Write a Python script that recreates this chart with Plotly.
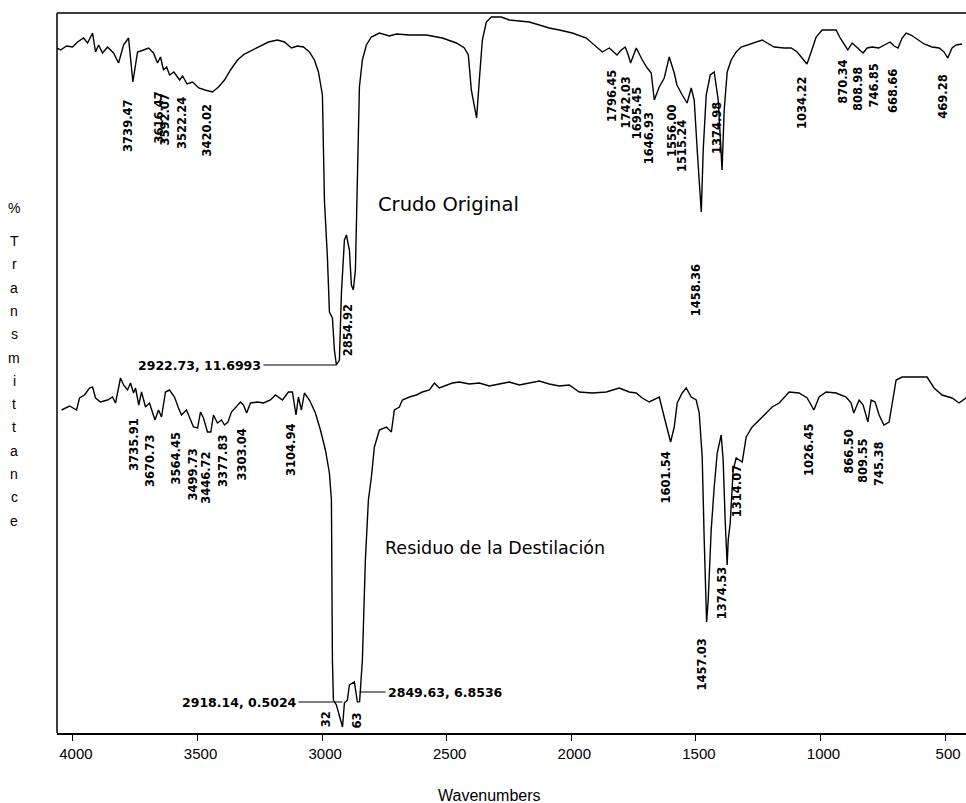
import plotly.graph_objects as go

# ---------------- data ----------------
top_wn = [4053.7, 4029.7, 4005.6, 3981.5, 3961.5, 3937.4, 3921.4, 3901.3, 3889.3, 3877.3,
          3861.2, 3841.2, 3817.1, 3797.0, 3777.0, 3756.9, 3739.5, 3720.8, 3696.8, 3676.7,
          3656.7, 3640.6, 3628.6, 3616.5, 3604.0, 3592.1, 3575.0, 3552.0, 3540.0, 3522.2,
          3500.0, 3475.0, 3450.0, 3420.0, 3395.9, 3371.9, 3347.8, 3319.7, 3291.7, 3259.6,
          3227.5, 3195.4, 3159.3, 3131.2, 3103.1, 3079.1, 3055.0, 3030.9, 3010.9, 2994.8,
          2978.8, 2970.8, 2958.7, 2950.7, 2938.7, 2930.7, 2922.7, 2910.6, 2902.6, 2890.5,
          2882.5, 2870.5, 2862.5, 2854.9, 2846.4, 2838.4, 2830.4, 2818.4, 2802.4, 2782.4,
          2750.4, 2710.1, 2682.0, 2629.8, 2561.7, 2497.5, 2441.3, 2409.2, 2393.2, 2381.2,
          2360.0, 2349.1, 2337.0, 2321.0, 2300.9, 2260.8, 2228.7, 2188.6, 2148.5, 2108.4,
          2068.3, 2028.2, 1976.0, 1919.9, 1879.8, 1855.7, 1827.6, 1796.5, 1779.5, 1763.5,
          1751.4, 1742.0, 1719.4, 1695.0, 1675.2, 1659.2, 1646.9, 1627.1, 1607.0, 1587.0,
          1566.9, 1556.0, 1534.8, 1515.2, 1498.7, 1486.7, 1474.7, 1458.4, 1450.6, 1438.6,
          1422.5, 1406.5, 1390.4, 1375.0, 1366.4, 1354.4, 1338.4, 1318.2, 1298.2, 1274.1,
          1246.0, 1214.0, 1193.9, 1165.8, 1125.7, 1097.6, 1073.6, 1053.5, 1034.2, 1017.4,
          997.4, 973.3, 917.1, 901.1, 885.0, 870.3, 853.0, 836.9, 824.9, 809.0,
          792.8, 772.7, 746.9, 724.6, 700.5, 684.5, 668.7, 652.4, 636.4, 616.3,
          588.2, 564.2, 532.1, 504.0, 484.0, 469.3, 451.9, 435.8, 411.8]
top_T = [91.2, 90.45, 91.45, 91.2, 92.45, 93.45, 92.2, 94.7, 89.95, 91.7,
         89.7, 91.2, 89.7, 87.2, 91.7, 93.45, 82.45, 89.95, 90.45, 90.95,
         89.7, 87.2, 88.7, 85.45, 86.2, 84.2, 84.95, 82.95, 83.95, 81.95,
         82.45, 80.95, 80.45, 79.95, 81.2, 82.95, 85.45, 87.95, 89.45, 90.45,
         91.45, 92.45, 92.95, 92.45, 90.95, 91.45, 91.2, 89.95, 87.95, 84.95,
         79.2, 52.95, 38.45, 24.95, 23.45, 15.45, 11.70, 12.95, 29.7, 42.95,
         44.2, 40.45, 31.7, 30.45, 35.45, 57.95, 81.2, 87.95, 91.7, 93.7,
         94.7, 93.95, 94.45, 94.2, 94.2, 93.45, 92.2, 90.95, 89.2, 80.45,
         73.45, 82.95, 92.95, 97.45, 98.7, 98.7, 97.95, 97.7, 97.45, 96.7,
         95.95, 95.45, 94.7, 93.45, 91.2, 89.95, 90.95, 89.2, 90.45, 91.2,
         89.2, 87.2, 90.95, 87.95, 85.95, 84.7, 77.95, 81.2, 83.45, 88.7,
         84.7, 81.7, 79.2, 77.2, 80.95, 77.95, 65.45, 49.95, 65.45, 79.2,
         84.2, 84.95, 77.95, 60.45, 75.45, 84.95, 87.95, 89.95, 91.2, 91.7,
         92.2, 92.95, 92.2, 91.2, 90.95, 90.95, 89.95, 88.45, 86.95, 89.95,
         93.7, 95.45, 95.45, 93.45, 91.7, 90.45, 92.2, 91.2, 90.45, 89.7,
         90.95, 91.2, 90.95, 91.7, 92.45, 91.45, 90.95, 93.45, 94.7, 94.2,
         92.95, 91.95, 91.2, 90.95, 89.95, 88.45, 90.95, 91.7, 91.95]

bot_wn = [4045.7, 4013.6, 3985.5, 3973.5, 3953.5, 3933.4, 3921.4, 3909.3, 3889.3, 3861.2,
          3841.2, 3829.1, 3809.1, 3797.0, 3781.0, 3768.9, 3756.9, 3748.9, 3735.9, 3724.8,
          3708.8, 3692.8, 3670.7, 3656.7, 3644.6, 3628.6, 3612.5, 3592.5, 3576.4, 3564.5,
          3544.3, 3532.3, 3516.3, 3499.7, 3488.2, 3476.2, 3460.1, 3446.7, 3436.1, 3420.0,
          3404.0, 3391.9, 3377.8, 3363.9, 3343.8, 3327.8, 3315.7, 3303.0, 3287.6, 3259.6,
          3235.5, 3207.4, 3187.4, 3159.3, 3135.2, 3119.2, 3104.9, 3095.1, 3083.1, 3071.0,
          3051.0, 3026.9, 3006.8, 2986.8, 2970.8, 2962.7, 2958.7, 2954.7, 2942.7, 2930.7,
          2918.1, 2910.6, 2898.6, 2890.5, 2870.5, 2858.5, 2849.6, 2838.4, 2826.4, 2814.3,
          2802.3, 2790.3, 2770.2, 2742.1, 2722.1, 2710.1, 2690.0, 2678.0, 2649.9, 2621.8,
          2597.8, 2569.7, 2549.6, 2529.6, 2501.5, 2477.4, 2449.3, 2409.2, 2369.1, 2329.0,
          2288.9, 2248.8, 2208.7, 2168.6, 2128.5, 2088.4, 2048.3, 2008.1, 1968.0, 1915.9,
          1859.7, 1807.6, 1767.5, 1739.4, 1715.3, 1687.3, 1659.2, 1647.1, 1627.1, 1615.1,
          1601.5, 1586.9, 1574.9, 1554.9, 1538.8, 1518.8, 1498.7, 1486.7, 1474.7, 1466.6,
          1457.0, 1450.6, 1438.6, 1426.5, 1414.5, 1398.5, 1390.4, 1382.4, 1374.5, 1370.3,
          1362.3, 1350.3, 1338.3, 1314.1, 1298.2, 1274.1, 1246.0, 1218.0, 1193.9, 1165.8,
          1145.8, 1125.7, 1085.6, 1053.5, 1026.5, 1005.4, 977.3, 937.2, 897.1, 877.0,
          866.5, 844.9, 828.9, 809.6, 796.8, 780.8, 764.7, 745.4, 724.6, 708.6,
          696.5, 672.5, 632.3, 572.2, 544.1, 512.0, 471.9, 443.8, 411.8]
bot_T = [79.75, 80.75, 79.75, 82.75, 83.5, 85.25, 85.5, 82.75, 81.75, 82.25,
         83.0, 81.5, 87.75, 86.0, 84.75, 86.5, 84.0, 85.25, 81.0, 84.25,
         80.5, 81.5, 77.25, 79.75, 78.0, 84.25, 84.75, 83.0, 80.25, 78.5,
         79.75, 78.0, 75.5, 75.25, 79.25, 77.75, 74.25, 74.25, 78.5, 76.5,
         77.25, 76.0, 76.75, 79.25, 80.5, 81.75, 81.0, 79.0, 81.5, 81.75,
         81.5, 82.25, 83.5, 82.25, 84.25, 84.25, 78.5, 83.0, 79.75, 84.0,
         82.25, 79.0, 74.75, 69.75, 64.0, 57.25, 17.25, 7.25, 6.0, 3.5,
         0.50, 6.5, 7.25, 11.0, 11.75, 6.75, 6.85, 17.25, 42.25, 57.25,
         63.0, 70.5, 74.75, 75.5, 74.25, 79.75, 80.5, 82.25, 83.0, 83.5,
         84.25, 84.75, 86.5, 85.25, 86.0, 86.5, 86.75, 86.25, 86.5, 85.75,
         86.25, 86.75, 86.0, 86.5, 87.0, 86.25, 85.75, 86.0, 84.25, 84.0,
         84.25, 85.25, 84.25, 84.0, 82.75, 81.75, 82.75, 83.0, 78.0, 75.25,
         71.75, 75.5, 81.5, 84.0, 85.25, 83.0, 82.25, 79.0, 68.0, 47.25,
         26.75, 32.25, 49.75, 60.5, 69.0, 73.5, 67.0, 52.0, 41.0, 47.25,
         51.5, 64.75, 67.75, 66.75, 73.0, 75.5, 77.25, 79.0, 80.5, 81.5,
         82.75, 84.25, 84.0, 82.75, 79.75, 83.0, 84.25, 84.0, 83.0, 81.5,
         79.0, 82.25, 81.0, 76.75, 82.25, 81.75, 78.5, 76.0, 76.75, 82.25,
         87.25, 88.0, 88.0, 88.0, 85.25, 83.5, 82.75, 81.5, 83.0]

x_ticks = [4000, 3500, 3000, 2500, 2000, 1500, 1000, 500]

# peak labels: (wavenumber, text, %T at top of label)
top_peak_wn = [3739.47, 3616.47, 3592.07, 3522.24, 3420.02, 2854.92, 1796.45, 1742.03, 1695.45,
               1646.93, 1556.00, 1515.24, 1458.36, 1374.98, 1034.22, 870.34, 808.98, 746.85,
               668.66, 469.28]
top_peak_txt = ["3739.47", "3616.47", "3592.07", "3522.24", "3420.02", "2854.92", "1796.45",
                "1742.03", "1695.45", "1646.93", "1556.00", "1515.24", "1458.36", "1374.98",
                "1034.22", "870.34", "808.98", "746.85", "668.66", "469.28"]
top_peak_lbl_T = [78.45, 80.45, 79.95, 79.2, 77.45, 27.45, 85.95, 84.2, 81.7, 75.45, 77.2, 73.45,
                  37.45, 77.95, 84.2, 88.45, 86.7, 87.45, 86.2, 84.7]

bot_peak_wn = [3735.91, 3670.73, 3564.45, 3499.73, 3446.72, 3377.83, 3303.04, 3104.94,
               1601.54, 1457.03, 1374.53, 1314.07, 1026.45, 866.50, 809.55, 745.38]
bot_peak_txt = ["3735.91", "3670.73", "3564.45", "3499.73", "3446.72", "3377.83", "3303.04",
                "3104.94", "1601.54", "1457.03", "1374.53", "1314.07", "1026.45", "866.50",
                "809.55", "745.38"]
bot_peak_lbl_T = [78.0, 74.0, 74.75, 70.5, 69.75, 74.0, 75.5, 76.75, 69.75, 23.0, 41.0, 66.5,
                  76.75, 75.25, 73.0, 72.25]

y_title_letters = ["%", "T", "r", "a", "n", "s", "m", "i", "t", "t", "a", "n", "c", "e"]

# ---------------- figure ----------------
fig = go.Figure()
fig.add_trace(go.Scatter(x=top_wn, y=top_T, mode="lines", xaxis="x2", yaxis="y2",
                         line=dict(color="black", width=1.4), hoverinfo="skip"))
fig.add_trace(go.Scatter(x=bot_wn, y=bot_T, mode="lines", xaxis="x", yaxis="y",
                         line=dict(color="black", width=1.4), hoverinfo="skip"))

lab_font = dict(family="DejaVu Sans", size=11.5, color="black", weight="bold")
lead_font = dict(family="DejaVu Sans", size=12.5, color="black", weight="bold")
ann = []
for wn, t, ty in zip(top_peak_wn, top_peak_txt, top_peak_lbl_T):
    ann.append(dict(x=wn, y=ty, xref="x2", yref="y2", text=t, textangle=-90, showarrow=False,
                    xanchor="center", yanchor="top", xshift=-5, font=lab_font))
for wn, t, ty in zip(bot_peak_wn, bot_peak_txt, bot_peak_lbl_T):
    ann.append(dict(x=wn, y=ty, xref="x", yref="y", text=t, textangle=-90, showarrow=False,
                    xanchor="center", yanchor="top", xshift=-5, font=lab_font))
# truncated labels near the bottom axis
ann.append(dict(x=2983, y=5.0, xref="x", yref="y", text="32", textangle=-90, showarrow=False,
                xanchor="center", yanchor="top", font=lab_font))
ann.append(dict(x=2862, y=4.5, xref="x", yref="y", text="63", textangle=-90, showarrow=False,
                xanchor="center", yanchor="top", font=lab_font))

# leader-line labels
ann.append(dict(x=2922.73, y=11.70, xref="x2", yref="y2", text="2922.73, 11.6993",
                showarrow=True, arrowhead=0, arrowwidth=1, arrowcolor="black", ax=-73, ay=0,
                xanchor="right", yanchor="middle", standoff=0, font=lead_font))
ann.append(dict(x=2918.14, y=6.75, xref="x", yref="y", text="2918.14, 0.5024",
                showarrow=True, arrowhead=0, arrowwidth=1, arrowcolor="black", ax=-44, ay=0,
                xanchor="right", yanchor="middle", standoff=0, font=lead_font))
ann.append(dict(x=2849.63, y=9.25, xref="x", yref="y", text="2849.63, 6.8536",
                showarrow=True, arrowhead=0, arrowwidth=1, arrowcolor="black", ax=26, ay=0,
                xanchor="left", yanchor="middle", standoff=0, font=lead_font))

ann.append(dict(x=2762, y=51.95, xref="x2", yref="y2", text="Crudo Original", showarrow=False,
                xanchor="left", yanchor="middle",
                font=dict(family="DejaVu Sans", size=19.5, color="black")))
ann.append(dict(x=2754, y=45.25, xref="x", yref="y", text="Residuo de la Destilación",
                showarrow=False, xanchor="left", yanchor="middle",
                font=dict(family="DejaVu Sans", size=17.5, color="black")))

# vertical y title
for i, ch in enumerate(y_title_letters):
    py = 208 if i == 0 else 241 + (i - 1) * 23.3
    ann.append(dict(x=-0.0473, y=(733 - py) / 720, xref="paper", yref="paper", text=ch,
                    showarrow=False, xanchor="center", yanchor="middle",
                    font=dict(family="Liberation Sans", size=14, color="black")))

ann.append(dict(x=0.476, y=-0.0875, xref="paper", yref="paper", text="Wavenumbers",
                showarrow=False, xanchor="center", yanchor="middle",
                font=dict(family="Liberation Sans", size=16, color="black")))

fig.update_layout(
    width=966, height=803,
    margin=dict(l=57, r=0, t=13, b=70),
    paper_bgcolor="white", plot_bgcolor="white",
    showlegend=False,
    xaxis=dict(range=[4064, 416], tickvals=x_ticks, ticktext=[str(v) for v in x_ticks],
               ticks="outside", ticklen=6, tickcolor="black", tickwidth=1.3,
               ticklabelshift=-3,
               showline=True, linecolor="black", linewidth=1.5, showgrid=False, zeroline=False,
               tickfont=dict(family="Liberation Sans", size=15, color="black"), anchor="y"),
    xaxis2=dict(range=[4044, 396], domain=[0, 1], visible=False, showgrid=False,
                zeroline=False, anchor="y2"),
    yaxis=dict(domain=[0, 0.5], range=[-1, 89], visible=False, showgrid=False, zeroline=False,
               anchor="x"),
    yaxis2=dict(domain=[0.5, 1], range=[9.7, 99.7], visible=False, showgrid=False,
                zeroline=False, anchor="x2"),
    annotations=ann,
    shapes=[
        dict(type="line", xref="paper", yref="paper", x0=0, x1=0, y0=0, y1=1,
             line=dict(color="black", width=1.5)),
        dict(type="line", xref="paper", yref="paper", x0=0, x1=1, y0=1, y1=1,
             line=dict(color="black", width=1.5)),
    ],
)

fig.write_html("out.html", config={"displayModeBar": False},
               post_script="document.body.style.margin='0';document.body.style.overflow='hidden';")
